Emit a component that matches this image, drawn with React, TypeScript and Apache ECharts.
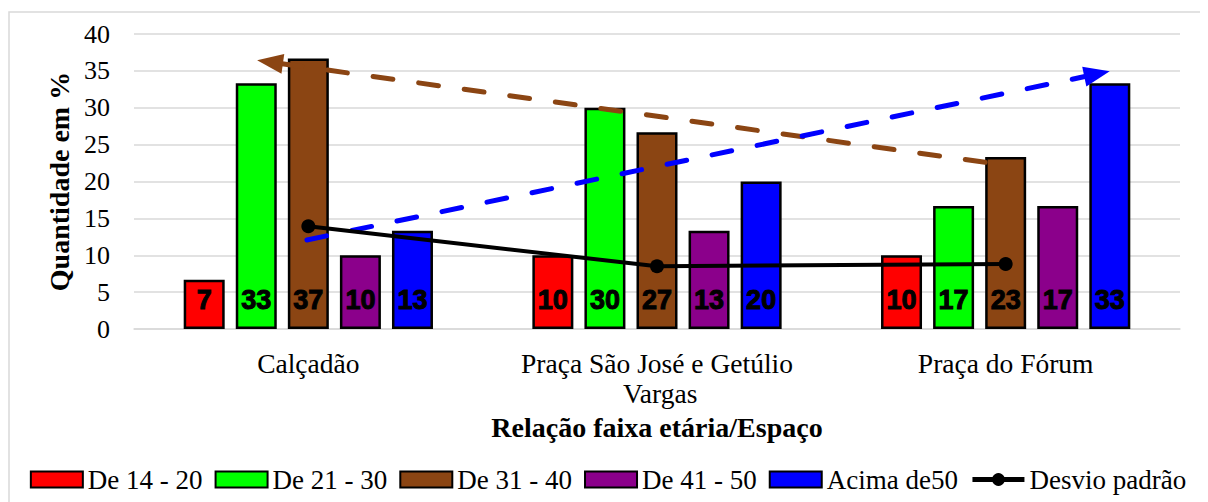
import React, { useEffect, useRef } from "react";
import * as echarts from "echarts";

const categories = ["Calçadão", "Praça São José e Getúlio Vargas", "Praça do Fórum"];
const seriesNames = ["De 14 - 20", "De 21 - 30", "De 31 - 40", "De 41 - 50", "Acima de50"];
const g14_20 = [6.67, 10, 10];
const g21_30 = [33.33, 30, 16.67];
const g31_40 = [36.67, 26.67, 23.33];
const g41_50 = [10, 13.33, 16.67];
const gAcima50 = [13.33, 20, 33.33];
const desvioPadrao = [13.94, 8.5, 8.82];
const desvioName = "Desvio padrão";
// trend arrows in (category position, value) coordinates
const brownArrow = [[2.441, 22.6], [0.39, 36.2]];
const blueArrow = [[0.496, 12.07], [2.762, 34.58]];
const yTicks = { min: 0, max: 40, interval: 5 };

const colors = ["#ff0000", "#00ff00", "#8b4513", "#8b008b", "#0000ff"];
const serif = "Liberation Serif";
const sans = "Liberation Sans";

export default function App() {
  const ref = useRef<HTMLDivElement>(null);
  useEffect(() => {
    if (!ref.current) return;
    const chart = echarts.init(ref.current, null, { renderer: "svg" });
    const barData = [g14_20, g21_30, g31_40, g41_50, gAcima50];
    const bars = barData.map((d, i) => ({
      name: seriesNames[i],
      type: "bar",
      data: d,
      barWidth: 41,
      barGap: "27%",
      itemStyle: { color: colors[i], borderColor: "#000", borderWidth: 2.5 },
      label: {
        show: true,
        position: "insideBottom",
        distance: 16,
        formatter: (p: any) => String(Math.round(p.value)),
        fontFamily: sans,
        fontWeight: "bold",
        fontSize: 27,
        color: "#000",
        textBorderColor: "#000",
        textBorderWidth: 1,
      },
    }));
    const arrow = (pts: number[][], color: string) => ({
      type: "line",
      xAxisIndex: 1,
      yAxisIndex: 0,
      data: [],
      silent: true,
      markLine: {
        silent: true,
        symbol: ["none", "triangle"],
        symbolSize: [20, 26],
        label: { show: false },
        lineStyle: { color, width: 5, type: [20, 26], cap: "round" },
        itemStyle: { color },
        emphasis: { disabled: true },
        data: [[{ coord: pts[0] }, { coord: pts[1] }]],
      },
    });
    chart.setOption({
      animation: false,
      textStyle: { fontFamily: serif },
      graphic: [
        {
          type: "rect",
          shape: { x: 1, y: 4, width: 1400, height: 700 },
          style: { fill: "none", stroke: "#d9d9d9", lineWidth: 1.5 },
          silent: true,
          z: -10,
        },
      ],
      grid: { left: 126, top: 26, width: 1046, height: 295 },
      legend: {
        data: [
          ...seriesNames.map((n) => ({ name: n, icon: "rect" })),
          { name: desvioName, lineStyle: { width: 5 } },
        ],
        top: 453,
        left: "center",
        itemWidth: 52,
        itemHeight: 16,
        itemGap: 12,
        textStyle: { fontFamily: serif, fontSize: 27, color: "#000" },
      },
      xAxis: [
        {
          type: "category",
          data: categories,
          axisTick: { show: false },
          axisLine: { lineStyle: { color: "#d9d9d9", width: 1.5 } },
          axisLabel: {
            fontFamily: serif,
            fontSize: 27.5,
            color: "#000",
            margin: 19,
            lineHeight: 30,
            width: 340,
            overflow: "break",
            interval: 0,
          },
          name: "Relação faixa etária/Espaço",
          nameLocation: "middle",
          nameGap: 84,
          nameTextStyle: { fontFamily: serif, fontSize: 28, fontWeight: "bold", color: "#000" },
        },
        { type: "value", min: 0, max: 3, show: false },
      ],
      yAxis: {
        type: "value",
        min: yTicks.min,
        max: yTicks.max,
        interval: yTicks.interval,
        axisLine: { show: false },
        axisTick: { show: false },
        splitLine: { lineStyle: { color: "#d9d9d9", width: 1.5 } },
        axisLabel: { fontFamily: serif, fontSize: 26, color: "#000", margin: 24 },
        name: "Quantidade em %",
        nameLocation: "middle",
        nameGap: 61,
        nameRotate: 90,
        nameTextStyle: { fontFamily: serif, fontSize: 28, fontWeight: "bold", color: "#000" },
      },
      series: [
        ...bars,
        {
          name: desvioName,
          type: "line",
          data: desvioPadrao,
          symbol: "circle",
          symbolSize: 14,
          itemStyle: { color: "#000" },
          lineStyle: { color: "#000", width: 4 },
          z: 5,
        },
        arrow(brownArrow, "#8b4513"),
        arrow(blueArrow, "#0000ff"),
      ],
    });
    return () => chart.dispose();
  }, []);
  return <div ref={ref} style={{ width: 1200, height: 494 }} />;
}
